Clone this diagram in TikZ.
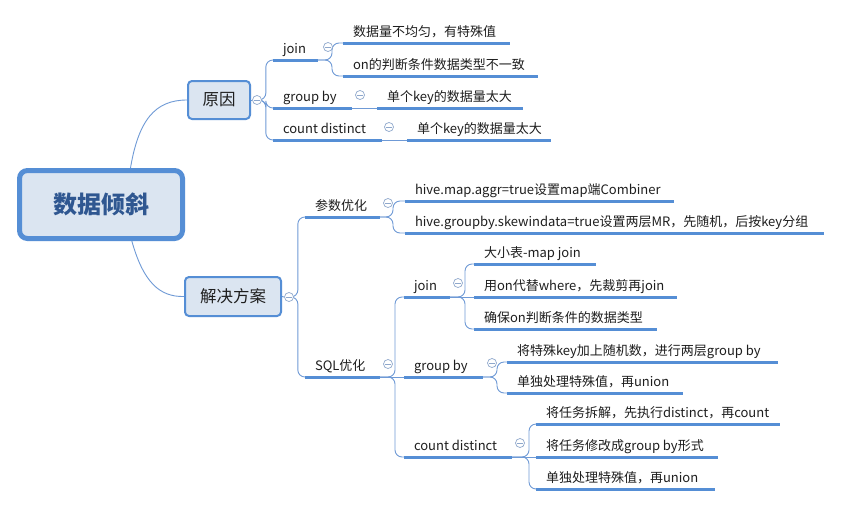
\documentclass[tikz,border=0pt]{standalone}
\usepackage{fontspec}
\setmainfont{Noto Sans CJK SC}
\usetikzlibrary{calc,backgrounds}
\definecolor{lineblue}{HTML}{558ED5}
\definecolor{thinblue}{HTML}{6F9AD6}
\definecolor{boxfill}{HTML}{DBE5F1}
\definecolor{roottext}{HTML}{2F5791}
\definecolor{btngray}{HTML}{8FA8CC}
\definecolor{txt}{HTML}{1E1E1E}
\tikzset{
  rootbox/.style={rectangle, rounded corners=8pt, draw=lineblue, line width=5pt, fill=boxfill,
    minimum width=163pt, minimum height=68pt, inner sep=0pt,
    font=\fontsize{24pt}{28pt}\selectfont\bfseries, text=roottext},
  mainbox/.style={rectangle, rounded corners=4pt, draw=lineblue, line width=2pt, fill=boxfill,
    inner sep=0pt, font=\fontsize{16.5pt}{20pt}\selectfont, text=txt},
  topic/.style={anchor=south west, inner xsep=10pt, inner ysep=0pt, outer sep=0pt,
    text height=12pt, text depth=7pt, font=\fontsize{13pt}{15pt}\selectfont, text=txt},
  uline/.style={draw=lineblue, line width=3pt},
  conn/.style={draw=thinblue, line width=0.9pt},
  branch/.style={conn, rounded corners=7pt},
  btn/.style={circle, draw=btngray, fill=white, line width=0.7pt, minimum size=9pt, inner sep=0pt,
    path picture={\draw[btngray, line width=0.7pt]
      ([xshift=-2.6pt]path picture bounding box.center) -- ([xshift=2.6pt]path picture bounding box.center);}}
}
\newcommand\topicnode[5]{%
  \pgfmathsetmacro\tpw{#3-#2-20}%
  \node[topic] (#1) at (#2,#4) {\makebox[\tpw pt][l]{#5}};
  \draw[uline] (#1.south west) -- (#1.south east);}
\begin{document}
\begin{tikzpicture}[x=1pt,y=-1pt]
\useasboundingbox (0,0) rectangle (842,506);
% root and main topics
\node[rootbox] (root) at (101,204.5) {数据倾斜};
\node[mainbox, minimum width=62pt, minimum height=38pt] (yy) at (219,100) {原因};
\node[mainbox, minimum width=96pt, minimum height=39pt] (fa) at (233,296.5) {解决方案};
\node[btn] (byy) at (257,100) {};
\node[btn] (bfa) at (289,297) {};
% 原因 subtree
\topicnode{rj}{273}{318}{60}{join}
\topicnode{rg}{273}{352}{108}{group by}
\topicnode{rc}{273}{382}{140}{count distinct}
\node[btn] (brj) at (328,47) {};
\node[btn] (brg) at (360,95) {};
\node[btn] (brc) at (389,127) {};
\topicnode{rj1}{343}{510}{43}{数据量不均匀，有特殊值}
\topicnode{rj2}{343}{538}{76}{on的判断条件数据类型不一致}
\topicnode{rg1}{377}{523}{108}{单个key的数据量太大}
\topicnode{rc1}{407}{551}{140}{单个key的数据量太大}
% 解决方案 subtree
\topicnode{pa}{305}{380}{217}{参数优化}
\topicnode{sq}{305}{380}{377}{SQL优化}
\node[btn] (bpa) at (388,203) {};
\node[btn] (bsq) at (388,364) {};
\topicnode{pa1}{405}{674}{201}{hive.map.aggr=true设置map端Combiner}
\topicnode{pa2}{405}{824}{233}{hive.groupby.skewindata=true设置两层MR，先随机，后按key分组}
\topicnode{sj}{404}{450}{297}{join}
\topicnode{sg}{404}{483}{377}{group by}
\topicnode{sc}{404}{512}{457}{count distinct}
\node[btn] (bsj) at (458,283) {};
\node[btn] (bsg) at (492,363) {};
\node[btn] (bsc) at (520,443) {};
\topicnode{sj1}{474}{596}{264}{大小表-map join}
\topicnode{sj2}{474}{677}{297}{用on代替where，先裁剪再join}
\topicnode{sj3}{474}{657}{329}{确保on判断条件的数据类型}
\topicnode{sg1}{507}{778}{362}{将特殊key加上随机数，进行两层group by}
\topicnode{sg2}{507}{683}{393}{单独处理特殊值，再union}
\topicnode{sc1}{536}{780}{424}{将任务拆解，先执行distinct，再count}
\topicnode{sc2}{536}{718}{457}{将任务修改成group by形式}
\topicnode{sc3}{536}{715}{489}{单独处理特殊值，再union}
\begin{pgfonlayer}{background}
\fill[white] (0,0) rectangle (842,506);
% root connectors
\draw[conn] ($(root.north)+(29,3)$) .. controls (138,120) and (155,100) .. (yy.west);
\draw[conn] ($(root.south)+(30,-3)$) .. controls (143,283) and (160,297) .. (fa.west);
% 原因
\draw[conn] (yy.east) -- (byy.west);
\draw[branch] (byy.east) -- ++(4,0) |- (rj.south west);
\draw[branch] (byy.east) -- ++(4,0) |- (rg.south west);
\draw[branch] (byy.east) -- ++(4,0) |- (rc.south west);
\draw[branch] (rj.south east) -- ++(14,0) |- (rj1.south west);
\draw[branch] (rj.south east) -- ++(14,0) |- (rj2.south west);
\draw[conn] (rg.south east) -- (rg1.south west);
\draw[conn] (rc.south east) -- (rc1.south west);
% 解决方案
\draw[conn] (fa.east) -- (bfa.west);
\draw[branch] (bfa.east) -- ++(4,0) |- (pa.south west);
\draw[branch] (bfa.east) -- ++(4,0) |- (sq.south west);
\draw[branch] (pa.south east) -- ++(13,0) |- (pa1.south west);
\draw[branch] (pa.south east) -- ++(13,0) |- (pa2.south west);
\draw[branch] (sq.south east) -- ++(15,0) |- (sj.south west);
\draw[conn] (sq.south east) -- (sg.south west);
\draw[branch] (sq.south east) -- ++(15,0) |- (sc.south west);
\draw[branch] (sj.south east) -- ++(15,0) |- (sj1.south west);
\draw[conn] (sj.south east) -- (sj2.south west);
\draw[branch] (sj.south east) -- ++(15,0) |- (sj3.south west);
\draw[branch] (sg.south east) -- ++(14,0) |- (sg1.south west);
\draw[branch] (sg.south east) -- ++(14,0) |- (sg2.south west);
\draw[branch] (sc.south east) -- ++(17,0) |- (sc1.south west);
\draw[conn] (sc.south east) -- (sc2.south west);
\draw[branch] (sc.south east) -- ++(17,0) |- (sc3.south west);
\end{pgfonlayer}
\end{tikzpicture}
\end{document}
